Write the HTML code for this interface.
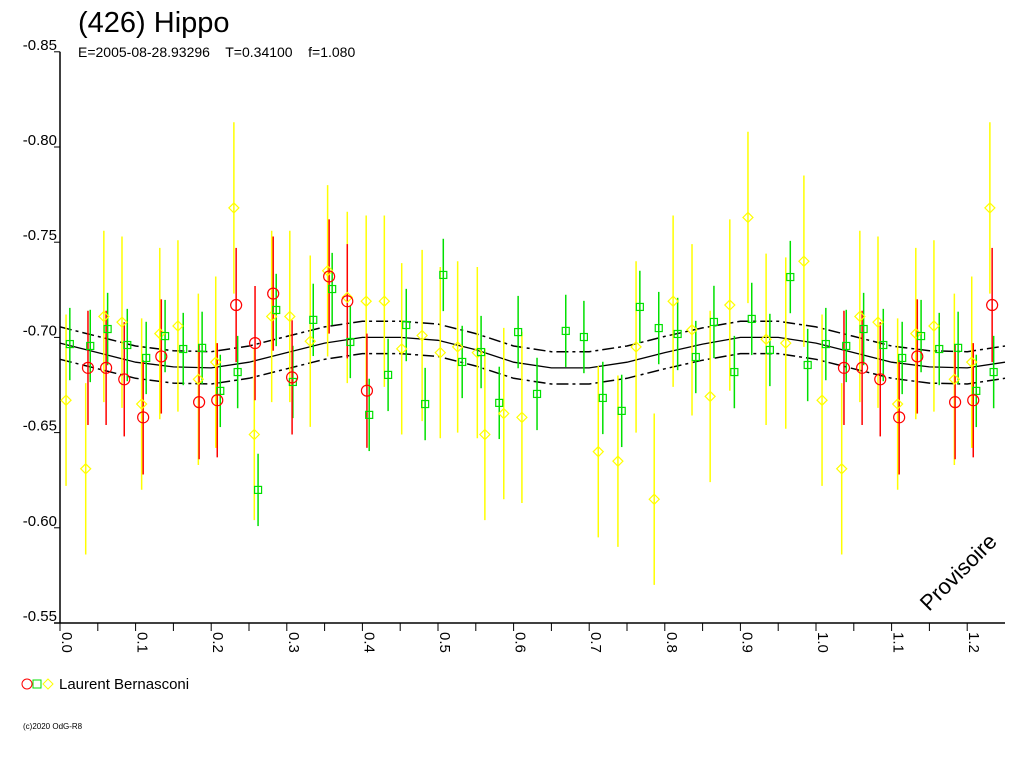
<!DOCTYPE html>
<html><head><meta charset="utf-8"><style>
body{margin:0;background:#fff}
svg{display:block;font-family:"Liberation Sans",sans-serif}
</style></head><body>
<svg id="chart" width="1024" height="768" viewBox="0 0 1024 768">
<text x="78" y="32" font-size="29">(426) Hippo</text>
<text x="78" y="57" font-size="14">E=2005-08-28.93296 &#160;&#160; T=0.34100 &#160;&#160; f=1.080</text>
<g id="axes"></g>
<g id="model"></g>
<g id="bars"></g>
<g id="marks"></g>
<text x="0" y="0" font-size="22" transform="translate(929,612) rotate(-45)">Provisoire</text>
<g>
<circle cx="27" cy="684" r="5" fill="none" stroke="#ff0000"/>
<rect x="33" y="680" width="8" height="8" fill="none" stroke="#00e000"/>
<path d="M48 679 L53 684 L48 689 L43 684 Z" fill="none" stroke="#ffff00"/>
<text x="59" y="689" font-size="15">Laurent Bernasconi</text>
</g>
<text x="23" y="729" font-size="8">(c)2020 OdG-R8</text>
</svg>
<script>
const yTicks=[-0.85,-0.80,-0.75,-0.70,-0.65,-0.60,-0.55];
const yTickLabels=["-0.85","-0.80","-0.75","-0.70","-0.65","-0.60","-0.55"];
const xTicks=[0,0.1,0.2,0.3,0.4,0.5,0.6,0.7,0.8,0.9,1.0,1.1,1.2];
const xTickLabels=["0.0","0.1","0.2","0.3","0.4","0.5","0.6","0.7","0.8","0.9","1.0","1.1","1.2"];
const modelPhase=[0,0.05,0.1,0.15,0.2,0.25,0.3,0.35,0.4,0.45,0.5,0.55,0.6,0.65,0.7,0.75,0.8,0.85,0.9,0.95];
const modelMag=[-0.697,-0.692,-0.687,-0.6845,-0.684,-0.687,-0.692,-0.697,-0.700,-0.700,-0.6985,-0.6935,-0.687,-0.684,-0.684,-0.687,-0.692,-0.6965,-0.700,-0.700];
const modelEnv=0.0085;
const redPhase=[0.037,0.061,0.085,0.110,0.134,0.184,0.208,0.233,0.258,0.282,0.307,0.356,0.380,0.406];
const redMag=[-0.684,-0.684,-0.678,-0.658,-0.690,-0.666,-0.667,-0.717,-0.697,-0.723,-0.679,-0.732,-0.719,-0.672];
const redErr=0.030;
const greenPhase=[0.013,0.040,0.063,0.089,0.114,0.139,0.163,0.188,0.212,0.235,0.262,0.286,0.308,0.335,0.360,0.384,0.409,0.434,0.458,0.483,0.507,0.532,0.557,0.581,0.606,0.631,0.669,0.693,0.718,0.743,0.767,0.792,0.817,0.841,0.865,0.892,0.915,0.939,0.966,0.989];
const greenMag=[-0.6965,-0.6955,-0.7044,-0.6960,-0.6892,-0.7007,-0.6939,-0.6945,-0.6719,-0.6818,-0.6199,-0.7144,-0.6766,-0.7092,-0.7254,-0.6976,-0.6593,-0.6803,-0.7065,-0.6650,-0.7328,-0.6871,-0.6923,-0.6656,-0.7028,-0.6703,-0.7034,-0.7002,-0.6682,-0.6614,-0.7160,-0.7049,-0.7018,-0.6897,-0.7081,-0.6818,-0.7097,-0.6934,-0.7317,-0.6855];
const greenErr=0.019;
const yellowPhase=[0.008,0.034,0.058,0.082,0.108,0.132,0.156,0.183,0.206,0.230,0.257,0.280,0.304,0.331,0.354,0.380,0.405,0.429,0.452,0.479,0.503,0.526,0.552,0.562,0.587,0.611,0.712,0.738,0.762,0.786,0.811,0.836,0.860,0.886,0.910,0.934,0.960,0.984];
const yellowMag=[-0.667,-0.631,-0.711,-0.708,-0.665,-0.702,-0.706,-0.678,-0.687,-0.768,-0.649,-0.711,-0.711,-0.698,-0.735,-0.721,-0.719,-0.719,-0.694,-0.701,-0.692,-0.695,-0.692,-0.649,-0.660,-0.658,-0.640,-0.635,-0.695,-0.615,-0.719,-0.704,-0.669,-0.717,-0.763,-0.699,-0.697,-0.740];
const yellowErr=0.045;

const NS="http://www.w3.org/2000/svg";
const X0=60,XS=756,XMAX=1005;
function xs(p){return X0+p*XS;}
function ys(m){return 623-(m+0.55)/(-0.05)*95.2;}
function mk(tag,attrs,parent){const e=document.createElementNS(NS,tag);for(const k in attrs)e.setAttribute(k,attrs[k]);parent.appendChild(e);return e;}
const axes=document.getElementById('axes');
let a=mk('line',{x1:X0,y1:ys(-0.85),x2:X0,y2:623,stroke:'#000','stroke-width':1.5},axes);


a=mk('line',{x1:X0-6,y1:623,x2:XMAX,y2:623,stroke:'#000','stroke-width':1.5},axes);


yTicks.forEach((v,i)=>{
  const y=ys(v);
  const t=mk('line',{x1:X0-6,y1:y,x2:X0,y2:y,stroke:'#000'},axes);
  
  
  const l=mk('text',{x:X0-3,y:y-2,'font-size':15,'text-anchor':'end'},axes);
  l.textContent=yTickLabels[i];
  
  
});
for(let p=0;p<=1.25;p+=0.05){
  const x=xs(p);
  const t=mk('line',{x1:x,y1:623,x2:x,y2:631,stroke:'#000'},axes);
  
  
}
xTicks.forEach((v,i)=>{
  const x=xs(v);
  const l=mk('text',{x:0,y:0,'font-size':15,transform:`translate(${x+2},632) rotate(90)`},axes);
  l.textContent=xTickLabels[i];
  
  
});
// model
const model=document.getElementById('model');
function modelPts(off){
  const pts=[];
  for(let k=0;k<2;k++)for(let i=0;i<modelPhase.length;i++){
    const p=modelPhase[i]+k;
    if(p<=1.26)pts.push(xs(p).toFixed(1)+','+ys(modelMag[i]+off).toFixed(1));
  }
  return pts.join(' ');
}
let c=mk('polyline',{points:modelPts(0),fill:'none',stroke:'#000','stroke-width':1.3},model);


c=mk('polyline',{points:modelPts(-modelEnv),fill:'none',stroke:'#000','stroke-width':1.5,'stroke-dasharray':'12,4,3,4'},model);


c=mk('polyline',{points:modelPts(modelEnv),fill:'none',stroke:'#000','stroke-width':1.5,'stroke-dasharray':'12,4,3,4'},model);


// data
const bars=document.getElementById('bars'),marks=document.getElementById('marks');
const series=[
 {ph:yellowPhase,m:yellowMag,e:yellowErr,col:'#ffff00',shape:'diamond'},
 {ph:greenPhase,m:greenMag,e:greenErr,col:'#00e000',shape:'square'},
 {ph:redPhase,m:redMag,e:redErr,col:'#ff0000',shape:'circle'}];
series.forEach(s=>{
  s.ph.forEach((p0,i)=>{
    [p0,p0+1].forEach(p=>{
      if(p>1.25)return;
      const x=xs(p),y=ys(s.m[i]);
      const b=mk('line',{x1:x,y1:ys(s.m[i]-s.e),x2:x,y2:ys(s.m[i]+s.e),stroke:s.col,'stroke-width':1.5},bars);
      
      
      let m;
      if(s.shape==='circle')m=mk('circle',{cx:x,cy:y,r:5.5,fill:'none',stroke:s.col,'stroke-width':1.2},marks);
      else if(s.shape==='square')m=mk('rect',{x:x-3.5,y:y-3.5,width:7,height:7,fill:'none',stroke:s.col,'stroke-width':1.2},marks);
      else m=mk('path',{d:`M${x} ${y-5} L${x+5} ${y} L${x} ${y+5} L${x-5} ${y} Z`,fill:'none',stroke:s.col,'stroke-width':1.2},marks);
      
      
    });
  });
});
</script>
</body></html>
